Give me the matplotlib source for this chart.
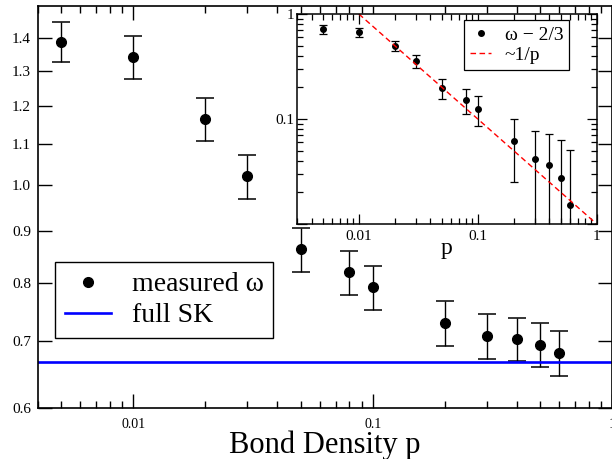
import matplotlib
matplotlib.use('Agg')
import matplotlib.pyplot as plt
from matplotlib.ticker import FixedLocator, FixedFormatter, NullLocator, LogLocator, NullFormatter

plt.rcParams['font.family'] = ['Liberation Serif', 'DejaVu Serif']

# bond density and measured exponent
p = [0.005, 0.01, 0.02, 0.03, 0.05, 0.08, 0.1, 0.2, 0.3, 0.4, 0.5, 0.6]
omega = [1.39, 1.342, 1.164, 1.021, 0.863, 0.819, 0.791, 0.729, 0.708, 0.703, 0.694, 0.681]
omega_err = [0.065, 0.066, 0.058, 0.051, 0.043, 0.041, 0.040, 0.037, 0.036, 0.035, 0.035, 0.035]
full_sk = 2 / 3

# inset: omega - 2/3 on log-log axes
omega_shift = [0.716, 0.667, 0.498, 0.354, 0.197, 0.153, 0.125, 0.0622, 0.0415, 0.0366, 0.0275, 0.0152]
fit_p = [0.01, 1.0]
fit_val = [1.0, 0.01]

main_yticks = [0.6, 0.7, 0.8, 0.9, 1.0, 1.1, 1.2, 1.3, 1.4]
main_yticklabels = ['0.6', '0.7', '0.8', '0.9', '1.0', '1.1', '1.2', '1.3', '1.4']
xticks = [0.01, 0.1, 1]
xticklabels = ['0.01', '0.1', '1']

fig = plt.figure(figsize=(6.12, 4.59), dpi=100)
ax = fig.add_axes([38/612, 51/459, 574/612, 402.5/459])

ax.errorbar(p, omega, yerr=omega_err, fmt='none', ecolor='black', elinewidth=1.0,
            capsize=6.5, capthick=1.1)
ax.plot(p, omega, 'o', color='black', ms=7, label='measured ω')
ax.axhline(full_sk, color='#0000ff', lw=1.9, label='full SK')

ax.set_xscale('log')
ax.set_yscale('log')
ax.set_xlim(0.004, 1.0)
ax.set_ylim(0.6, 1.51)
ax.yaxis.set_major_locator(FixedLocator(main_yticks))
ax.yaxis.set_major_formatter(FixedFormatter(main_yticklabels))
ax.yaxis.set_minor_locator(NullLocator())
ax.xaxis.set_major_locator(FixedLocator(xticks))
ax.xaxis.set_major_formatter(FixedFormatter(xticklabels))
ax.xaxis.set_minor_locator(LogLocator(base=10, subs=range(2, 10)))
ax.xaxis.set_minor_formatter(NullFormatter())
ax.tick_params(which='both', direction='in', top=True, right=True, width=1.0)
ax.tick_params(which='major', length=10)
ax.tick_params(which='minor', length=5)
ax.tick_params(axis='x', labelsize=10, pad=7)
ax.tick_params(axis='y', labelsize=11, pad=5)
for s in ax.spines.values():
    s.set_linewidth(1.2)
ax.set_xlabel('Bond Density p', fontsize=22, labelpad=0)

leg = ax.legend(loc='lower left', bbox_to_anchor=(0.03, 0.174), borderaxespad=0,
                fontsize=20, frameon=True, fancybox=False, edgecolor='black',
                framealpha=1, handlelength=1.65, handletextpad=0.75,
                borderpad=0.35, labelspacing=0.2)
leg.get_frame().set_linewidth(1.0)

# inset
ins = fig.add_axes([296.7/612, 235/459, 300/612, 210/459])
ins.errorbar(p, omega_shift, yerr=omega_err, fmt='none', ecolor='black', elinewidth=0.9,
             capsize=3, capthick=0.9)
ins.plot(p, omega_shift, 'o', color='black', ms=4, label='ω − 2/3')
ins.plot(fit_p, fit_val, '--', color='red', lw=1.0, dashes=(4, 2.5), label='~1/p')
ins.set_xscale('log')
ins.set_yscale('log')
ins.set_xlim(0.003, 1.0)
ins.set_ylim(0.01, 1.0)
ins.xaxis.set_major_locator(FixedLocator(xticks))
ins.xaxis.set_major_formatter(FixedFormatter(xticklabels))
ins.yaxis.set_major_locator(FixedLocator([0.01, 0.1, 1]))
ins.yaxis.set_major_formatter(FixedFormatter(['', '0.1', '1']))
for a in (ins.xaxis, ins.yaxis):
    a.set_minor_locator(LogLocator(base=10, subs=range(2, 10)))
    a.set_minor_formatter(NullFormatter())
ins.tick_params(which='both', direction='in', top=True, right=True, width=0.9)
ins.tick_params(which='major', length=7)
ins.tick_params(which='minor', length=4)
ins.tick_params(axis='both', labelsize=11)
ins.tick_params(axis='x', pad=4)
ins.tick_params(axis='y', pad=2)
for s in ins.spines.values():
    s.set_linewidth(1.1)
ins.set_xlabel('p', fontsize=17, labelpad=-3)

leg2 = ins.legend(loc='upper right', bbox_to_anchor=(0.909, 0.971), borderaxespad=0,
                  fontsize=14, frameon=True, fancybox=False, edgecolor='black',
                  framealpha=1, handlelength=1.1, handletextpad=0.7,
                  borderpad=0.3, labelspacing=0.15)
leg2.get_frame().set_linewidth(0.9)

fig.savefig('out.png', dpi=100)
